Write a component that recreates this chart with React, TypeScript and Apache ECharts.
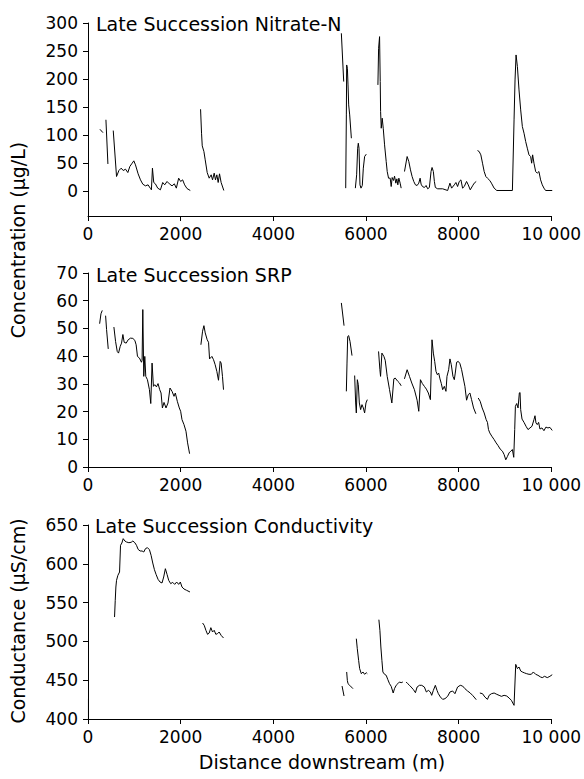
import React, { useEffect, useRef } from "react";
import * as echarts from "echarts";

// ---------- DATA ----------
const xTicks = [0, 2000, 4000, 6000, 8000, 10000];
const nitrateTicks = [0, 50, 100, 150, 200, 250, 300];

// Late Succession Nitrate-N (µg/L) — segments of [distance m, value]
const nitrateSegments: number[][][] = [
  [[258, 110], [323, 104]],
  [[387, 127], [430, 48]],
  [[545, 107.7], [616, 25.6], [667, 36.3], [717, 40.5], [760, 36.3], [810, 38.7], [860, 32.7], [903, 43.5], [953, 49.4], [989, 53.6], [1025, 46.4], [1082, 30.4], [1133, 19.6], [1183, 11.9], [1240, 8.9], [1297, 10.7], [1348, 4.2], [1369, 1.8], [1391, 40.5], [1419, 14.9], [1455, 12.5], [1505, 4.8], [1563, 1.8], [1613, 14.9], [1656, 10.7], [1706, 16.7], [1756, 12.5], [1814, 8.9], [1864, 12.5], [1907, 4.8], [1957, 22.6], [2000, 16.7], [2043, 19.6], [2086, 10.7], [2136, 4.2], [2208, 0.6]],
  [[2430, 145.8], [2451, 103], [2466, 80.4], [2502, 70.2], [2530, 55.4], [2573, 32.7], [2616, 22.6], [2659, 28.6], [2688, 19.6], [2724, 31.6], [2752, 19.6], [2781, 28.6], [2810, 14.9], [2839, 30.4], [2874, 14.9], [2932, 0.6]],
  [[5469, 281.6], [5520, 195.3]],
  [[5563, 4.8], [5577, 135.7], [5584, 225], [5599, 219], [5613, 189.3], [5627, 153.6], [5649, 135.7], [5685, 94]],
  [[5771, 4.8], [5799, 28.6], [5821, 76.2], [5835, 85.1], [5850, 76.2], [5871, 10.7], [5893, 4.8], [5921, 9.5], [5943, 40.5], [5971, 61.3], [6007, 65.5]],
  [[6258, 189.3], [6273, 254.8], [6294, 275.6], [6308, 195.3], [6316, 141.7], [6330, 111.9], [6351, 129.8], [6373, 111.9], [6402, 82.2], [6437, 52.4], [6459, 34.5], [6488, 22.6], [6523, 22.6], [6545, 7.7], [6566, 23.8], [6595, 18.5], [6617, 26.2], [6645, 13.7], [6667, 21.4], [6688, 10.7], [6710, 22.6], [6738, 13.7], [6760, 4.8]],
  [[6832, 34.5], [6889, 61.3], [6925, 52.4], [6961, 37.5], [6996, 25.6], [7032, 16.7], [7068, 10.7], [7104, 9.5], [7140, 13.7], [7169, 22.6], [7190, 11.9], [7219, 7.7], [7262, 6], [7298, 9.5], [7333, 3.6], [7369, 6], [7405, 34.5], [7427, 41.7], [7455, 34.5], [7477, 16.7], [7498, 6], [7548, 3.6], [7656, 3.6], [7763, 0.6], [7813, 13.7], [7849, 4.8], [7907, 10.7], [7942, 14.9], [7978, 7.7], [8014, 16.7], [8050, 19.6], [8086, 4.8], [8122, 7.7], [8172, 16.7], [8208, 10.7], [8251, 1.8], [8301, 8.9], [8337, 13.7], [8380, 16.7]],
  [[8408, 72], [8444, 70.2], [8480, 64.3], [8516, 49.4], [8552, 34.5], [8588, 25.6], [8623, 22.6], [8673, 18.5], [8709, 13.7], [8767, 4.8], [8824, 0.6], [9161, 0.6], [9197, 126.8], [9218, 198.2], [9240, 242.9], [9269, 222], [9304, 180.4], [9340, 144.7], [9376, 114.9], [9412, 103], [9448, 88.1], [9483, 76.2], [9519, 64.3], [9555, 61.3], [9577, 49.4], [9598, 64.3], [9627, 49.4], [9663, 34.5], [9698, 31.6], [9734, 34.5], [9770, 19.6], [9806, 10.7], [9842, 4.8], [9878, 0.6], [10021, 0.6]],
];

// Late Succession SRP (µg/L)
const srpSegments: number[][][] = [
  [[251, 51.7], [280, 55.3], [308, 56.5]],
  [[380, 54.6], [401, 49.6], [437, 42.6]],
  [[559, 50.5], [595, 45.3], [631, 41.7], [659, 41.1], [695, 43.5], [724, 44.7], [753, 47.8], [781, 45], [824, 44.7], [867, 45.9], [918, 46.5], [968, 46.4], [1011, 45.7], [1039, 44.1], [1068, 39.9], [1111, 39.3], [1154, 37.8], [1168, 38.5], [1183, 56.8], [1204, 32.7], [1226, 39.9], [1247, 32.7], [1283, 31.5], [1326, 27.9], [1355, 22.9], [1383, 37.5], [1412, 29.1], [1441, 29.7], [1477, 28.9], [1512, 30.1], [1548, 27.9], [1577, 26.7], [1606, 21.3], [1641, 23.3], [1684, 21.3], [1727, 23.1], [1770, 28.5], [1814, 27.3], [1857, 25.5], [1885, 26.7], [1928, 23.7], [1971, 21.3], [2000, 20.1], [2029, 17.1], [2072, 15.3], [2115, 12.9], [2150, 8.7], [2193, 4.8]],
  [[2437, 44.1], [2473, 49], [2502, 51], [2530, 48.4], [2573, 45.9], [2602, 45], [2624, 39], [2674, 39.9], [2710, 38.7], [2745, 36.9], [2781, 34.5], [2817, 31.3], [2853, 38.1], [2874, 37.5], [2903, 32.7], [2925, 27.9]],
  [[5469, 59.2], [5527, 51]],
  [[5577, 27.3], [5591, 37.5], [5606, 47.1], [5627, 47.4], [5656, 45.3], [5699, 40.2]],
  [[5756, 33], [5778, 23.1], [5792, 19.5], [5814, 31.5], [5835, 29.7], [5857, 23.1], [5885, 20.7], [5914, 22.5], [5943, 21.3], [5971, 19.5], [6000, 23.1], [6029, 24.3]],
  [[6272, 41.7], [6301, 35.1], [6315, 32.7], [6344, 41.1], [6387, 39.9], [6416, 38.5], [6459, 32.7], [6509, 27.9], [6559, 23.1], [6602, 31.8], [6631, 32.1], [6688, 30.9], [6724, 30.3], [6760, 29.3]],
  [[6831, 31.8], [6889, 35.1], [6939, 32.7], [6989, 30.3], [7046, 27.9], [7104, 24.1], [7140, 20.1], [7176, 31.5], [7218, 30.1], [7261, 29.1], [7304, 28.1], [7347, 26.7], [7391, 24.3], [7426, 45.9], [7455, 41.1], [7484, 38.1], [7512, 34.5], [7541, 33.3], [7570, 33.9], [7598, 31.8], [7627, 30.1], [7656, 27.9], [7692, 29.1], [7727, 27.3], [7749, 32.7], [7785, 35.1], [7813, 39], [7842, 36.9], [7878, 32.7], [7907, 31.5], [7928, 33.9], [7957, 37.8], [7993, 38.1], [8029, 37.3], [8065, 35.1], [8100, 32.1], [8136, 29.1], [8172, 24.1], [8208, 26.1], [8244, 26.7], [8280, 24.3], [8323, 21.3], [8373, 19.2]],
  [[8423, 24.9], [8466, 23.7], [8509, 21.3], [8552, 19.5], [8595, 17.1], [8623, 16.1], [8645, 13.5], [8673, 12.3], [8717, 11.1], [8767, 9.9], [8810, 8.7], [8853, 7.7], [8896, 6.5], [8946, 5.7], [8982, 4.5], [9018, 2.6], [9054, 3.8], [9089, 5.1], [9125, 5.7], [9161, 6.3], [9190, 3.5], [9211, 13.5], [9226, 21.9], [9254, 22.9], [9283, 21.3], [9311, 26.7], [9326, 26.9], [9340, 20.7], [9369, 17.3], [9412, 16.1], [9455, 14.7], [9498, 13.5], [9541, 14.1], [9584, 14.7], [9627, 17.1], [9649, 18.5], [9670, 15.9], [9698, 15.3], [9727, 16.1], [9756, 13.7], [9799, 14.1], [9842, 13.1], [9885, 14.4], [9928, 14.1], [9971, 14.3], [10021, 13.2]],
];

// Late Succession Conductivity (µS/cm)
const condSegments: number[][][] = [
  [[10, 426], [10, 400]],
  [[573, 531.4], [588, 552.9], [602, 570.1], [616, 578.7], [645, 585.1], [681, 589.4], [702, 623.8], [731, 626.8], [760, 632.4], [796, 629.4], [831, 628.1], [882, 627.2], [932, 627.7], [968, 629.4], [1011, 627.2], [1047, 623.8], [1082, 618.6], [1125, 616.5], [1168, 616.5], [1204, 615.2], [1240, 619.5], [1283, 620.8], [1326, 618.2], [1362, 610.9], [1398, 601], [1434, 592.4], [1469, 586.4], [1512, 580], [1555, 576.5], [1598, 575.3], [1634, 583], [1670, 593.7], [1706, 586.4], [1742, 578.7], [1785, 574.4], [1828, 576.1], [1871, 573.5], [1914, 576.5], [1957, 573.5], [1993, 576.5], [2029, 570.1], [2072, 567.5], [2129, 565.8], [2201, 563.7]],
  [[2473, 523.7], [2509, 520.7], [2545, 514.3], [2581, 509.1], [2616, 510.8], [2652, 517.7], [2688, 512.1], [2724, 514.3], [2760, 509.1], [2796, 510], [2831, 512.1], [2874, 507.8], [2925, 504.4]],
  [[5484, 442.5], [5527, 429.6]],
  [[5584, 460.6], [5598, 449.8], [5613, 445.5], [5649, 443.4], [5685, 441.2], [5720, 439.1]],
  [[5792, 503.5], [5813, 490.6], [5842, 475.6], [5864, 464.9], [5900, 458.4], [5935, 460.6], [5971, 457.6], [6007, 459.7], [6029, 458.4]],
  [[6279, 528], [6301, 514.3], [6322, 492.8], [6344, 475.6], [6365, 460.6], [6401, 457.6], [6437, 456.3], [6473, 450.7], [6509, 445.5], [6545, 442.1], [6588, 433.5], [6616, 439.1], [6652, 443.4], [6688, 445.5], [6724, 447.7], [6760, 446.8], [6796, 447.7]],
  [[6867, 447.7], [6903, 445.5], [6939, 443.4], [6975, 441.2], [7025, 437.8], [7068, 433.9], [7104, 441.2], [7154, 443.4], [7204, 443.4], [7261, 441.2], [7304, 434.8], [7347, 436.9], [7390, 434.8], [7419, 430.5], [7455, 436.9], [7498, 443.4], [7534, 436.9], [7563, 432.6], [7606, 428.4], [7656, 425.3], [7706, 426.2], [7763, 429.2], [7813, 434.8], [7871, 436.1], [7921, 432.6], [7978, 441.2], [8036, 443.4], [8086, 442.5], [8136, 439.1], [8193, 436.1], [8251, 433.5], [8301, 430.5], [8351, 427.1], [8380, 424.9]],
  [[8459, 433.5], [8516, 432.6], [8566, 428.4], [8623, 425.3], [8659, 430.5], [8709, 432.6], [8767, 433.5], [8824, 431.8], [8874, 430.5], [8924, 429.2], [8982, 430.5], [9039, 429.6], [9089, 427.1], [9139, 424.1], [9197, 417.6], [9233, 470.4], [9269, 464.9], [9304, 467], [9340, 461.9], [9376, 460.6], [9426, 459.3], [9469, 458.4], [9519, 457.6], [9570, 457.6], [9613, 460.6], [9663, 457.6], [9713, 456.3], [9770, 454.1], [9806, 453.3], [9856, 455], [9914, 453.3], [9971, 455], [10021, 457.1]],
];

const panelTitles = ["Late Succession Nitrate-N", "Late Succession SRP", "Late Succession Conductivity"];
const yNames = ["Concentration (\u00b5g/L)", "Conductance (\u00b5S/cm)"];
const xName = "Distance downstream (m)";

// ---------- CHART ----------
const FONT = "DejaVu Sans";
const TICK_SIZE = 17;
const TITLE_SIZE = 19;

function fmtX(v: number) {
  return v >= 10000 ? "10 000" : String(v);
}

export default function App() {
  const ref = useRef<HTMLDivElement>(null);
  useEffect(() => {
    if (!ref.current) return;
    const chart = echarts.init(ref.current, undefined, { renderer: "svg" });

    const grids = [
      { left: 88, top: 23, width: 466, height: 193 },
      { left: 88, top: 273, width: 466, height: 194 },
      { left: 88, top: 525, width: 466, height: 194 },
    ];

    const axisCommon = {
      axisLine: { show: true, onZero: false, lineStyle: { color: "#000", width: 1 } },
      axisTick: { show: true, inside: false, length: 5, lineStyle: { color: "#000", width: 1 } },
      splitLine: { show: false },
      axisLabel: { color: "#000", fontSize: TICK_SIZE, fontFamily: FONT },
    };

    const xAxes = [0, 1, 2].map((i) => ({
      type: "value",
      gridIndex: i,
      min: 0,
      max: 10000,
      interval: 2000,
      ...axisCommon,
      axisLabel: { ...axisCommon.axisLabel, margin: 9, formatter: fmtX, showMaxLabel: true, showMinLabel: true },
      axisTick: { ...axisCommon.axisTick, customValues: xTicks },
    }));

    const yAxes = [
      {
        type: "value",
        gridIndex: 0,
        min: -45,
        max: 300,
        ...axisCommon,
        axisLabel: { ...axisCommon.axisLabel, margin: 10, customValues: nitrateTicks },
        axisTick: { ...axisCommon.axisTick, customValues: nitrateTicks },
      },
      {
        type: "value",
        gridIndex: 1,
        min: 0,
        max: 70,
        interval: 10,
        ...axisCommon,
        axisLabel: { ...axisCommon.axisLabel, margin: 10 },
      },
      {
        type: "value",
        gridIndex: 2,
        min: 400,
        max: 650,
        interval: 50,
        ...axisCommon,
        axisLabel: { ...axisCommon.axisLabel, margin: 10 },
      },
    ];

    const mk = (segs: number[][][], idx: number) =>
      segs.map((seg) => ({
        type: "line",
        xAxisIndex: idx,
        yAxisIndex: idx,
        data: seg,
        showSymbol: false,
        symbol: "none",
        lineStyle: { color: "#000", width: 1 },
        silent: true,
      }));

    const series = [...mk(nitrateSegments, 0), ...mk(srpSegments, 1), ...mk(condSegments, 2)];

    const txt = (text: string, x: number, y: number, opts: any = {}) => ({
      type: "text",
      x,
      y,
      rotation: opts.rotation || 0,
      silent: true,
      style: {
        text,
        fill: "#000",
        fontSize: opts.size || TITLE_SIZE,
        fontFamily: FONT,
        align: opts.align || "left",
        verticalAlign: "middle",
      },
    });

    chart.setOption({
      animation: false,
      backgroundColor: "#fff",
      grid: grids,
      xAxis: xAxes,
      yAxis: yAxes,
      series,
      graphic: [
        txt(panelTitles[0], 96, 24),
        txt(panelTitles[1], 96, 275),
        txt(panelTitles[2], 95, 526),
        txt(yNames[0], 18, 240, { rotation: Math.PI / 2, align: "center" }),
        txt(yNames[1], 18, 621, { rotation: Math.PI / 2, align: "center" }),
        txt(xName, 322, 762, { align: "center" }),
      ],
    });
    return () => chart.dispose();
  }, []);
  return (
    <div
      ref={ref}
      style={{ position: "absolute", left: 0, top: 0, width: 584, height: 779, background: "#fff" }}
    />
  );
}
